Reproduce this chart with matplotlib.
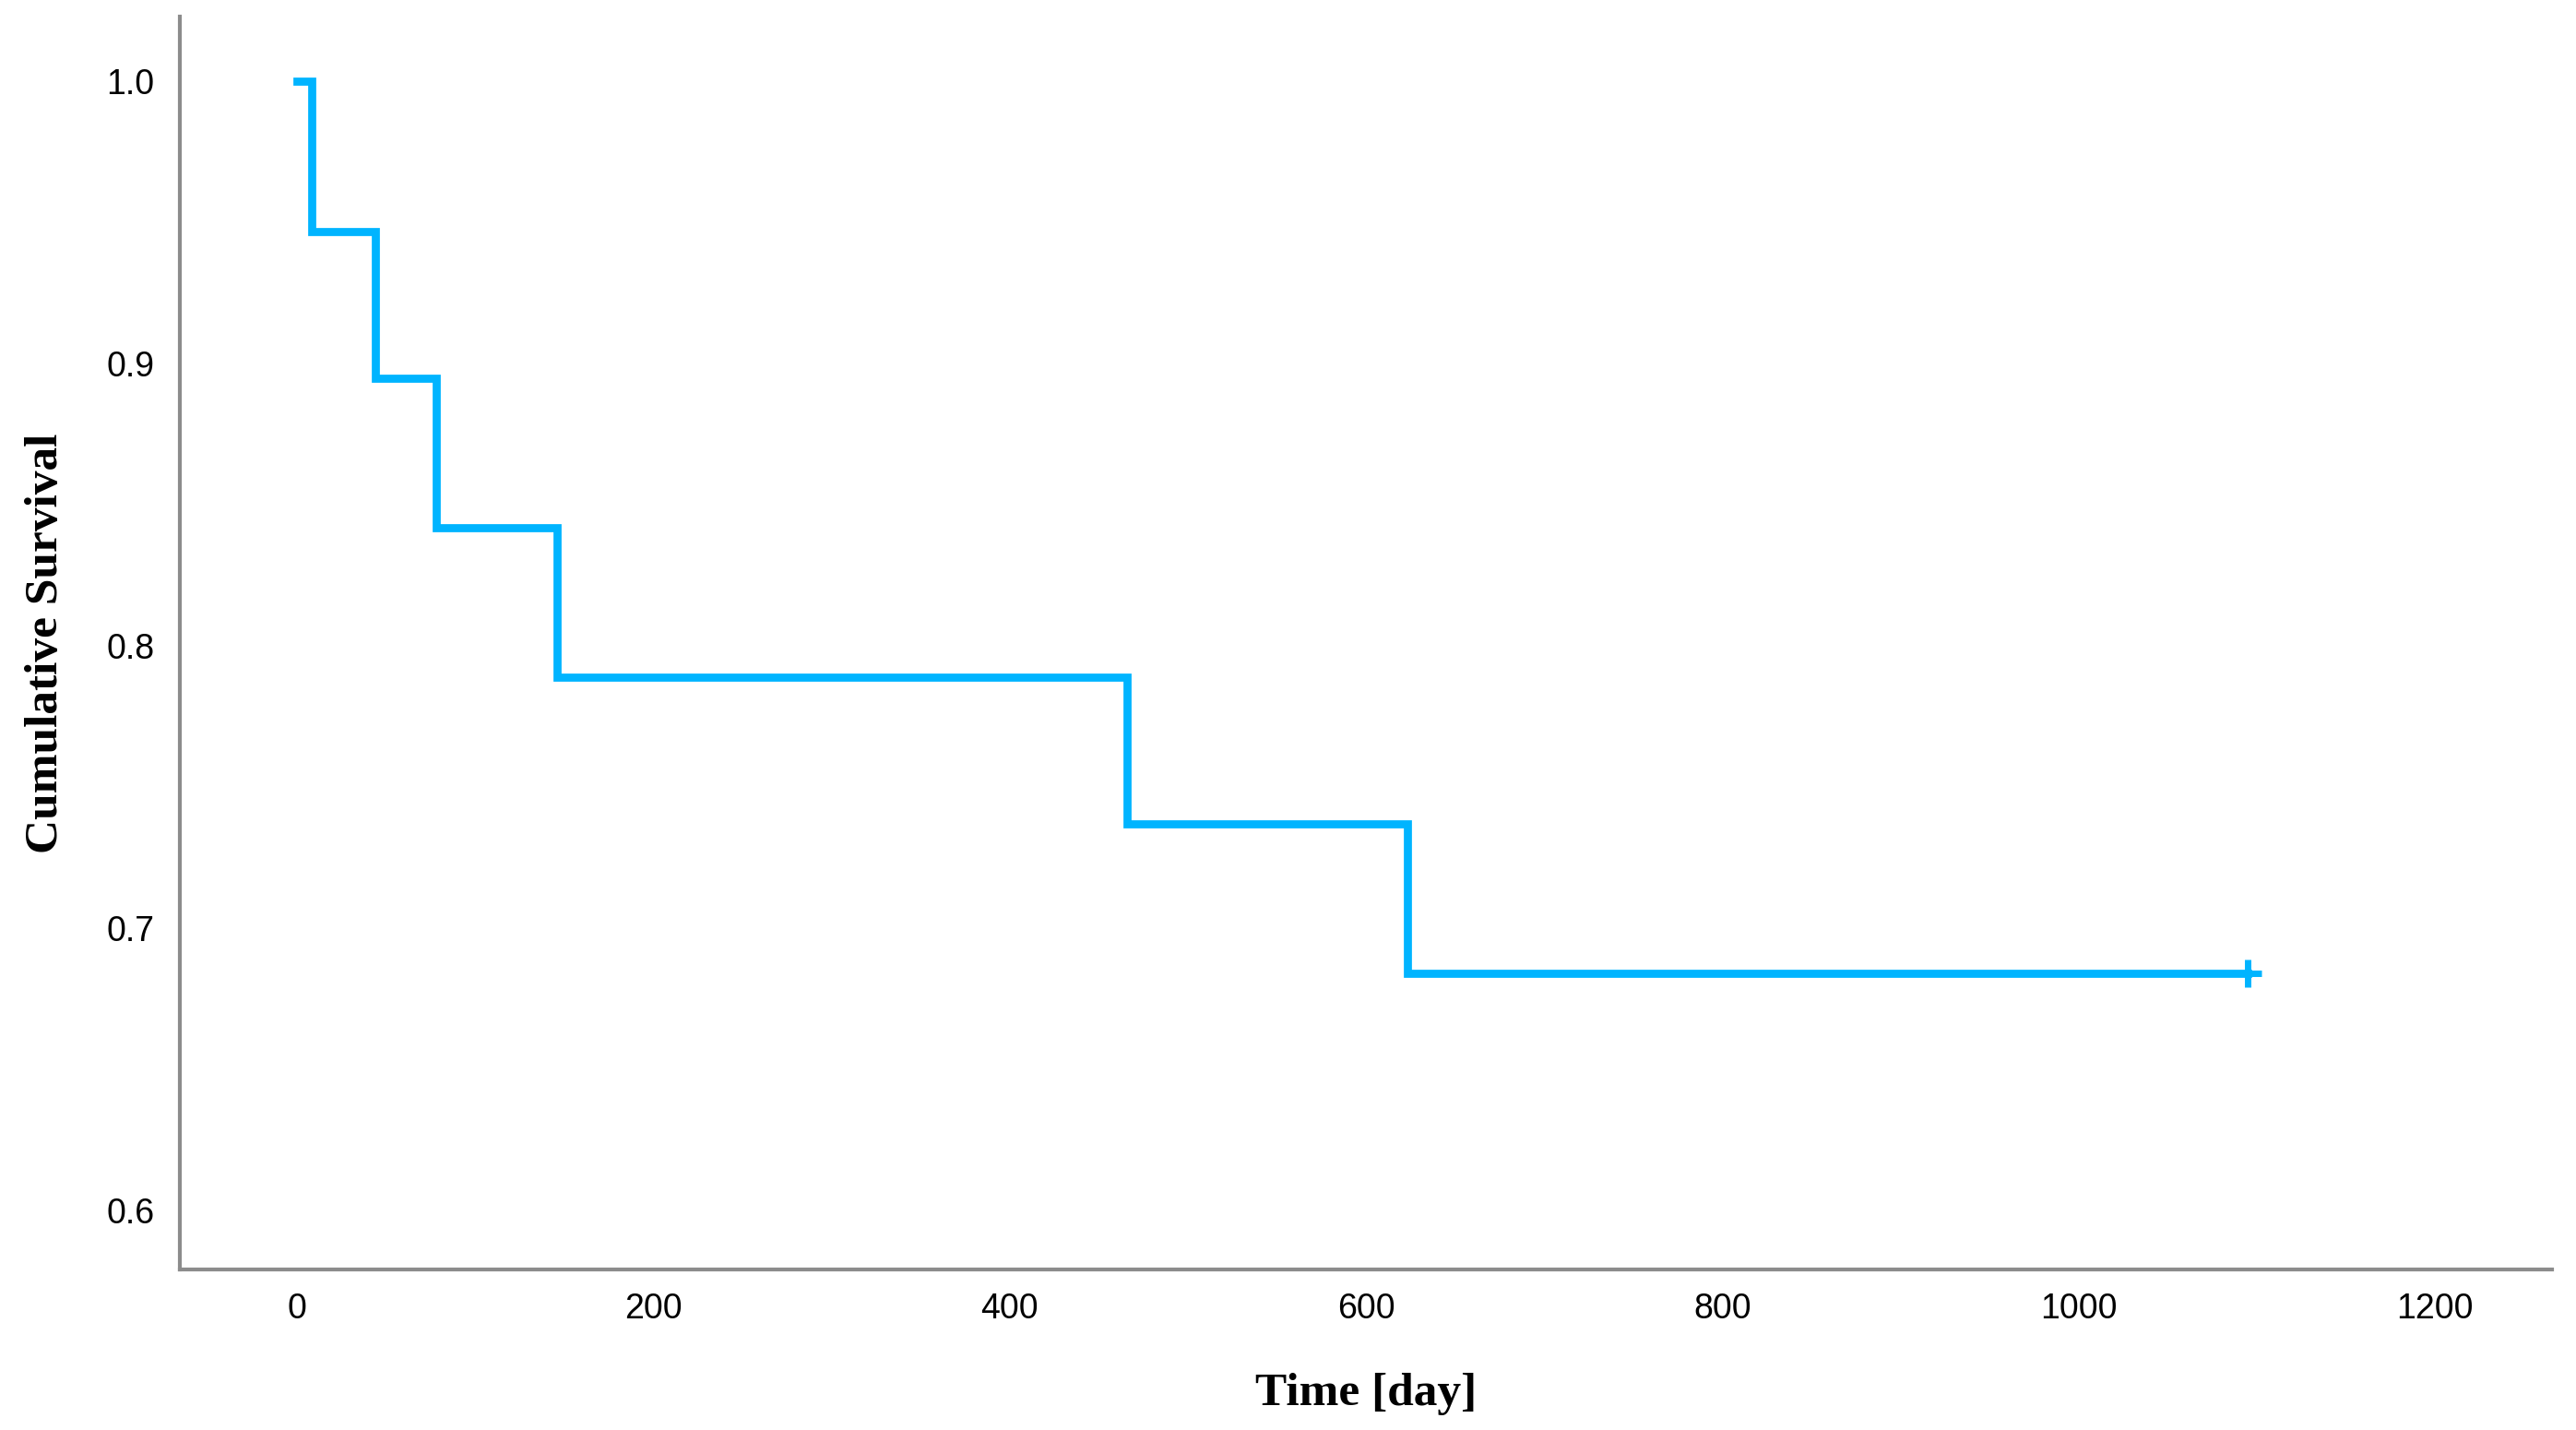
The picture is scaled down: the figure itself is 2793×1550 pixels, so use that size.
import numpy as np
import matplotlib
matplotlib.use("Agg")
import matplotlib.pyplot as plt

# Kaplan-Meier estimate (n = 19, one event per step)
event_days = [0, 8, 44, 78, 146, 466, 623]
survival = [1.0, 0.947, 0.895, 0.842, 0.789, 0.737, 0.684]
last_day = 1095          # censored at end of follow-up
x_ticks = [0, 200, 400, 600, 800, 1000, 1200]
y_ticks = [0.6, 0.7, 0.8, 0.9, 1.0]

line_col = '#00B4FF'

fig = plt.figure(figsize=(27.93, 15.5), dpi=100)
ax = fig.add_axes([0.0698, 0.1123, 0.921, 0.876])

xs = event_days + [last_day]
ys = survival + [survival[-1]]
ax.step(xs, ys, where='post', color=line_col, lw=6.3, solid_joinstyle='miter')
ax.plot([last_day], [survival[-1]], marker='+', ms=22, mew=5, color=line_col, ls='none')

ax.set_xlim(-66, 1266)
ax.set_ylim(0.579, 1.023)
ax.set_xticks(x_ticks)
ax.set_yticks(y_ticks)
ax.set_yticklabels([f"{v:.1f}" for v in y_ticks])
ax.tick_params(length=0, labelsize=27, pad=20)
ax.tick_params(axis='x', pad=18)
for lab in ax.get_xticklabels() + ax.get_yticklabels():
    lab.set_fontfamily(['Liberation Sans', 'DejaVu Sans'])

for side in ['top', 'right']:
    ax.spines[side].set_visible(False)
for side in ['left', 'bottom']:
    ax.spines[side].set_color('#8c8c8c')
    ax.spines[side].set_linewidth(3)

ax.set_xlabel('Time [day]', fontsize=37, fontweight='bold',
              family=['Liberation Serif', 'DejaVu Serif'], labelpad=37)
ax.set_ylabel('Cumulative Survival', fontsize=37, fontweight='bold',
              family=['Liberation Serif', 'DejaVu Serif'], labelpad=30)

fig.savefig('out.png', dpi=100, facecolor='white')
